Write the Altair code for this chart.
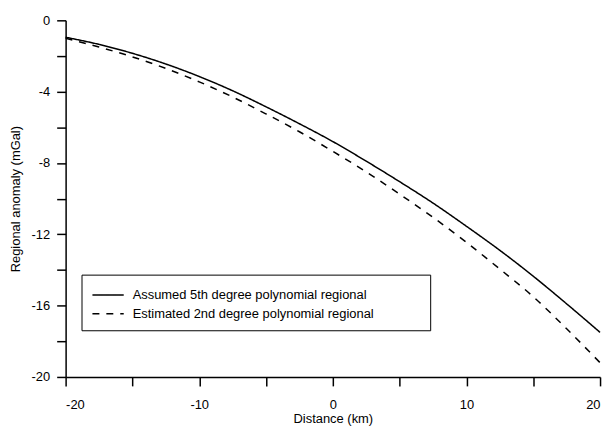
import altair as alt
import pandas as pd

distance_km = [-20, -17.5, -15, -12.5, -10, -7.5, -5, -2.5, 0, 2.5, 5, 7.5, 10, 12.5, 15, 17.5, 20]
assumed_5th = [-0.95, -1.35, -1.85, -2.45, -3.15, -3.95, -4.85, -5.8, -6.8, -7.9, -9.05,
               -10.25, -11.55, -12.9, -14.35, -15.9, -17.5]
estimated_2nd = [-1.0, -1.5, -2.05, -2.7, -3.45, -4.3, -5.25, -6.25, -7.35, -8.5, -9.75,
                 -11.05, -12.45, -13.95, -15.5, -17.3, -19.2]
series_names = ["Assumed 5th degree polynomial regional", "Estimated 2nd degree polynomial regional"]
x_ticks = [-20, -15, -10, -5, 0, 5, 10, 15, 20]
y_ticks = [-20, -18, -16, -14, -12, -10, -8, -6, -4, -2, 0]

rows = []
for x, a, e in zip(distance_km, assumed_5th, estimated_2nd):
    rows.append({"x": x, "y": a, "series": series_names[0]})
    rows.append({"x": x, "y": e, "series": series_names[1]})
df = pd.DataFrame(rows)

FONT = "Liberation Sans"
NB = "\u00a0" * 13 + "\u200b"

chart = alt.Chart(df).mark_line(strokeWidth=1.5, interpolate="monotone", color="black").encode(
    x=alt.X("x:Q",
            scale=alt.Scale(domain=[-20, 20], nice=False),
            axis=alt.Axis(title="Distance (km)", values=x_ticks,
                          labelExpr="datum.value % 10 == 0 ? toString(datum.value) : ''",
                          grid=False, tickSize=9, labelPadding=13, titlePadding=1)),
    y=alt.Y("y:Q",
            scale=alt.Scale(domain=[-20, 0], nice=False),
            axis=alt.Axis(title="Regional anomaly (mGal)", values=y_ticks,
                          labelExpr="datum.value % 4 == 0 ? toString(datum.value) : ''",
                          grid=False, tickSize=9, labelPadding=7, titlePadding=9)),
    strokeDash=alt.StrokeDash("series:N",
                              scale=alt.Scale(domain=series_names, range=[[1, 0], [7, 7]]),
                              legend=alt.Legend(title=None, orient="none", legendX=16, legendY=256,
                                                symbolType="M-0.95,0H2.2", symbolSize=400,
                                                symbolStrokeColor="black", symbolStrokeWidth=1.5,
                                                labelFontSize=13, labelFont=FONT, labelColor="black",
                                                labelLimit=600, labelOffset=20,
                                                strokeColor="black", fillColor="white",
                                                padding=9.5, rowPadding=1,
                                                labelExpr="datum.label + '" + NB + "'")),
    order="x:Q",
).properties(
    width=538, height=359,
    padding={"left": 58, "top": 11, "right": 8, "bottom": 52},
    autosize=alt.AutoSizeParams(type="none"),
).configure_view(stroke=None).configure_axis(
    domainColor="black", domainWidth=1.5, tickColor="black", tickWidth=1.5,
    labelColor="black", titleColor="black", labelFont=FONT, titleFont=FONT,
    labelFontSize=13, titleFontSize=13, titleFontWeight="normal",
)

chart.save("out.html", embed_options={"renderer": "svg", "actions": False})
